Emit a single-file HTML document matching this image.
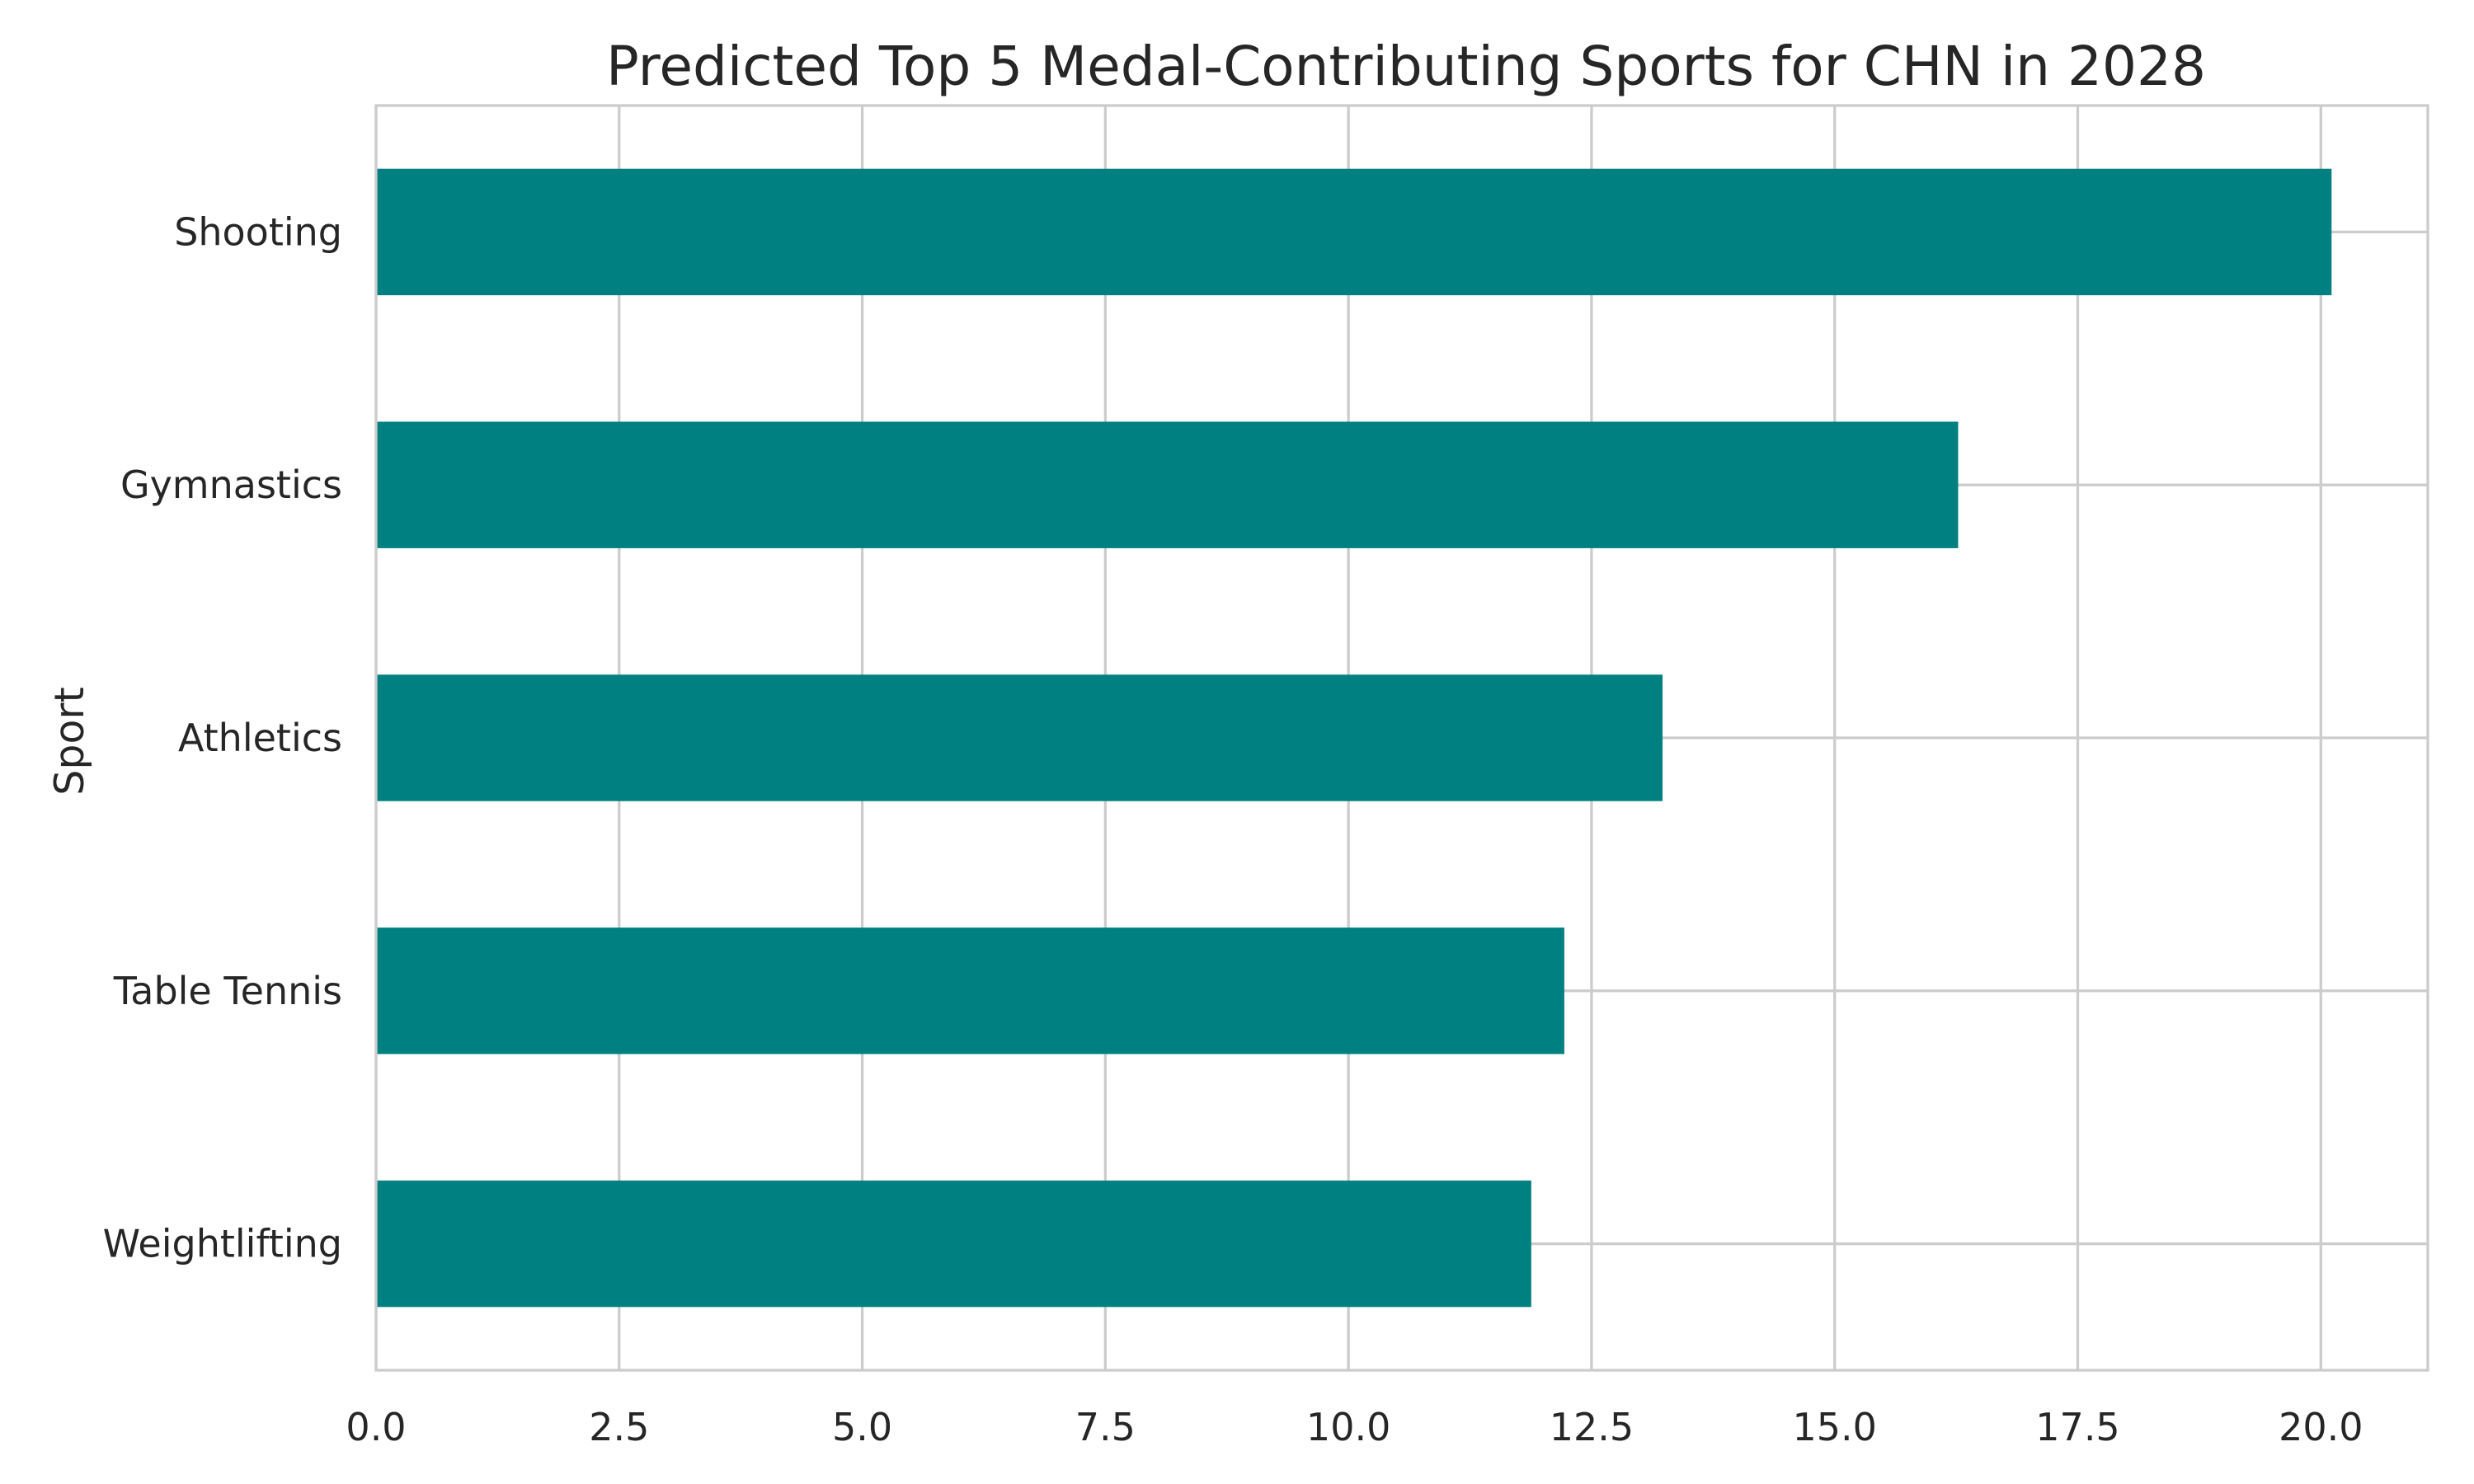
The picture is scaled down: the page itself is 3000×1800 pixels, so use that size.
<!DOCTYPE html>
<html><head><meta charset="utf-8"><style>
html,body{margin:0;padding:0;background:#fff}
svg{display:block}
text{font-family:"DejaVu Sans","Liberation Sans",sans-serif;fill:#262626}
</style></head><body>
<svg id="chart" width="3000" height="1800" viewBox="0 0 3000 1800">
<rect width="3000" height="1800" fill="#fff"/>
<g id="grid"></g>
<g id="bars"></g>
<rect x="456" y="128" width="2488" height="1534" fill="none" stroke="#cccccc" stroke-width="3.3"/>
<g id="xticks"></g>
<g id="yticks"></g>
<text x="1705" y="103" font-size="66" text-anchor="middle">Predicted Top 5 Medal-Contributing Sports for CHN in 2028</text>
<text transform="translate(101,899) rotate(-90)" font-size="49" text-anchor="middle">Sport</text>
</svg>
<script>
const categories = ["Shooting","Gymnastics","Athletics","Table Tennis","Weightlifting"];
const values = [20.11, 16.27, 13.23, 12.22, 11.88];
const xTicks = [0, 2.5, 5, 7.5, 10, 12.5, 15, 17.5, 20];
const xTickLabels = ["0.0","2.5","5.0","7.5","10.0","12.5","15.0","17.5","20.0"];

const L=456,R=2944,T=128,B=1662,XMAX=21.1;
const NS="http://www.w3.org/2000/svg";
function x(v){return L+(v/XMAX)*(R-L);}
const band=(B-T)/categories.length;
function yc(i){return T+band*(i+0.5);}
function mk(tag,attrs,parent){const e=document.createElementNS(NS,tag);for(const k in attrs)e.setAttribute(k,attrs[k]);parent.appendChild(e);return e;}
const grid=document.getElementById('grid'),bars=document.getElementById('bars'),xt=document.getElementById('xticks'),yt=document.getElementById('yticks');
xTicks.forEach((t,i)=>{
  const g=mk('line',{x1:x(t),x2:x(t),y1:T,y2:B,stroke:'#cccccc','stroke-width':3.3},grid);
  
  
  const tx=mk('text',{x:x(t),y:1747,'font-size':46,'text-anchor':'middle'},xt);
  tx.textContent=xTickLabels[i];
  
  
});
categories.forEach((c,i)=>{
  const g=mk('line',{x1:L,x2:R,y1:yc(i),y2:yc(i),stroke:'#cccccc','stroke-width':3.3},grid);
  
  
  const b=mk('rect',{x:L,y:yc(i)-band*0.25,width:x(values[i])-L,height:band*0.5,fill:'#008080'},bars);
  
  
  const tx=mk('text',{x:415,y:yc(i)+16,'font-size':46,'text-anchor':'end'},yt);
  tx.textContent=c;
  
  
});
</script>
</body></html>
